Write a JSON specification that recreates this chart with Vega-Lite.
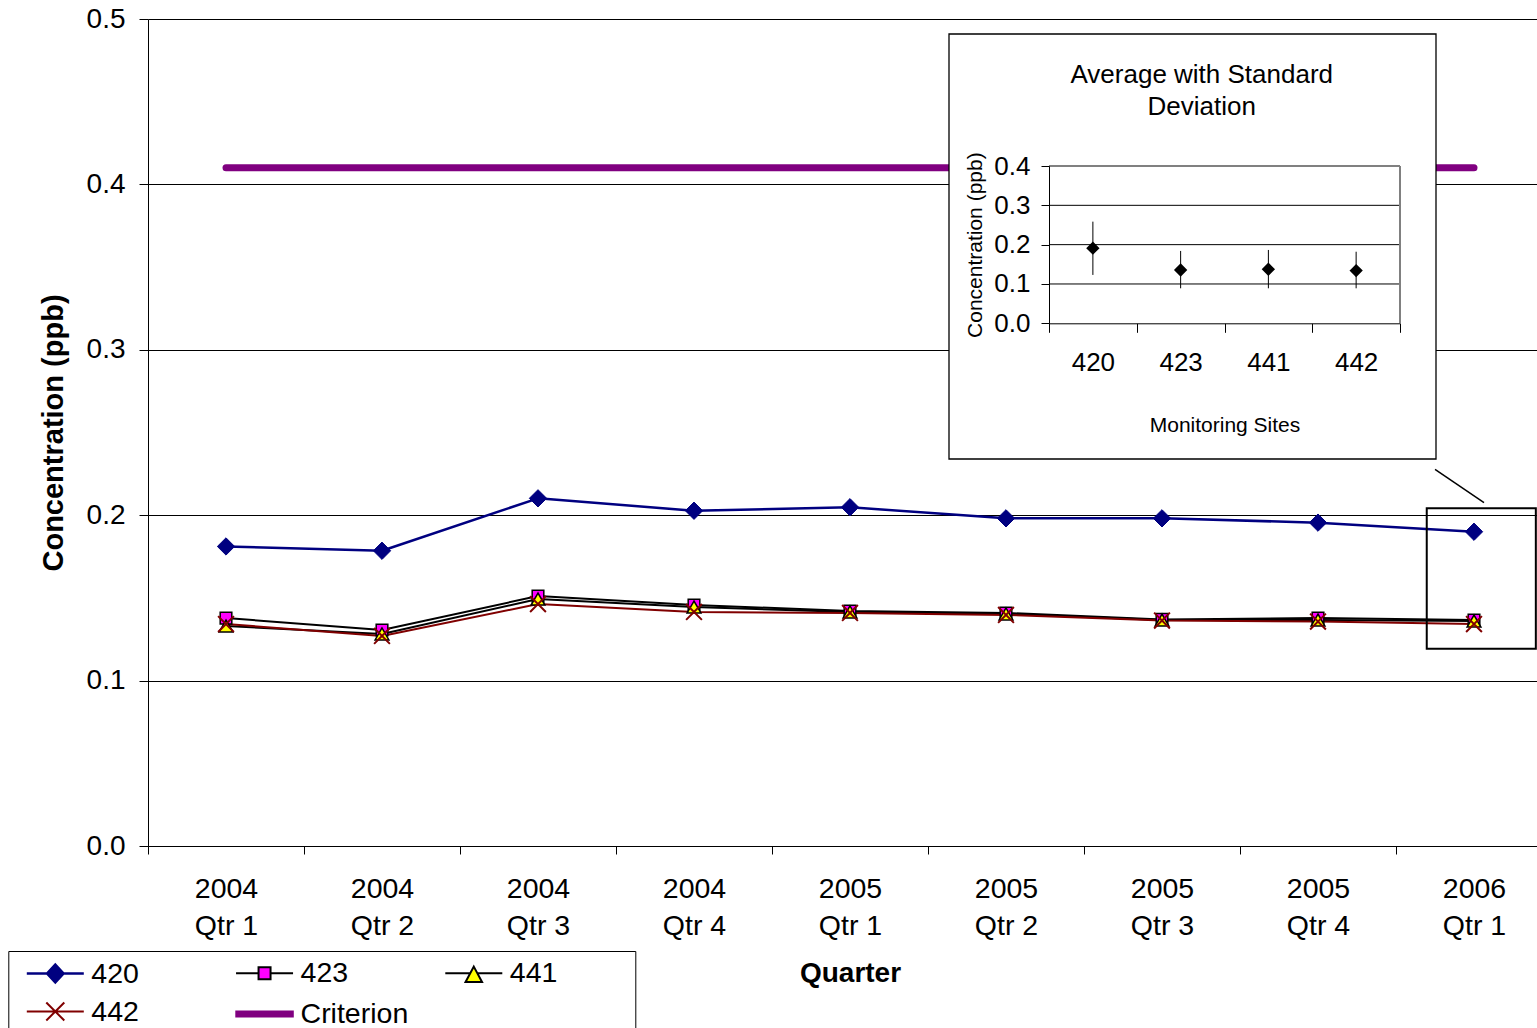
{
  "$schema": "https://vega.github.io/schema/vega-lite/v6.json",
  "width": 1389,
  "height": 827,
  "autosize": {"type": "none"},
  "padding": {"left": 148, "top": 19, "right": 0, "bottom": 182},
  "background": "white",
  "config": {
    "view": {"stroke": null},
    "font": "Liberation Sans",
    "axis": {"labelFont": "Liberation Sans", "titleFont": "Liberation Sans"},
    "legend": {"labelFont": "Liberation Sans", "titleFont": "Liberation Sans"},
    "text": {"font": "Liberation Sans"}
  },
  "datasets": {
    "main": [
      {"quarter": "2004 Qtr 1", "series": "420", "value": 0.1811},
      {"quarter": "2004 Qtr 2", "series": "420", "value": 0.1785},
      {"quarter": "2004 Qtr 3", "series": "420", "value": 0.2102},
      {"quarter": "2004 Qtr 4", "series": "420", "value": 0.2027},
      {"quarter": "2005 Qtr 1", "series": "420", "value": 0.2048},
      {"quarter": "2005 Qtr 2", "series": "420", "value": 0.1981},
      {"quarter": "2005 Qtr 3", "series": "420", "value": 0.1981},
      {"quarter": "2005 Qtr 4", "series": "420", "value": 0.1955},
      {"quarter": "2006 Qtr 1", "series": "420", "value": 0.19},
      {"quarter": "2004 Qtr 1", "series": "423", "value": 0.1378},
      {"quarter": "2004 Qtr 2", "series": "423", "value": 0.1306},
      {"quarter": "2004 Qtr 3", "series": "423", "value": 0.1511},
      {"quarter": "2004 Qtr 4", "series": "423", "value": 0.1457},
      {"quarter": "2005 Qtr 1", "series": "423", "value": 0.1421},
      {"quarter": "2005 Qtr 2", "series": "423", "value": 0.1409},
      {"quarter": "2005 Qtr 3", "series": "423", "value": 0.137},
      {"quarter": "2005 Qtr 4", "series": "423", "value": 0.1378},
      {"quarter": "2006 Qtr 1", "series": "423", "value": 0.1366},
      {"quarter": "2004 Qtr 1", "series": "441", "value": 0.133},
      {"quarter": "2004 Qtr 2", "series": "441", "value": 0.1282},
      {"quarter": "2004 Qtr 3", "series": "441", "value": 0.1493},
      {"quarter": "2004 Qtr 4", "series": "441", "value": 0.1445},
      {"quarter": "2005 Qtr 1", "series": "441", "value": 0.1415},
      {"quarter": "2005 Qtr 2", "series": "441", "value": 0.1403},
      {"quarter": "2005 Qtr 3", "series": "441", "value": 0.1366},
      {"quarter": "2005 Qtr 4", "series": "441", "value": 0.1366},
      {"quarter": "2006 Qtr 1", "series": "441", "value": 0.136},
      {"quarter": "2004 Qtr 1", "series": "442", "value": 0.1342},
      {"quarter": "2004 Qtr 2", "series": "442", "value": 0.127},
      {"quarter": "2004 Qtr 3", "series": "442", "value": 0.1463},
      {"quarter": "2004 Qtr 4", "series": "442", "value": 0.1415},
      {"quarter": "2005 Qtr 1", "series": "442", "value": 0.1409},
      {"quarter": "2005 Qtr 2", "series": "442", "value": 0.1397},
      {"quarter": "2005 Qtr 3", "series": "442", "value": 0.1363},
      {"quarter": "2005 Qtr 4", "series": "442", "value": 0.1357},
      {"quarter": "2006 Qtr 1", "series": "442", "value": 0.1342},
      {"quarter": "2004 Qtr 1", "series": "Criterion", "value": 0.41},
      {"quarter": "2004 Qtr 2", "series": "Criterion", "value": 0.41},
      {"quarter": "2004 Qtr 3", "series": "Criterion", "value": 0.41},
      {"quarter": "2004 Qtr 4", "series": "Criterion", "value": 0.41},
      {"quarter": "2005 Qtr 1", "series": "Criterion", "value": 0.41},
      {"quarter": "2005 Qtr 2", "series": "Criterion", "value": 0.41},
      {"quarter": "2005 Qtr 3", "series": "Criterion", "value": 0.41},
      {"quarter": "2005 Qtr 4", "series": "Criterion", "value": 0.41},
      {"quarter": "2006 Qtr 1", "series": "Criterion", "value": 0.41}
    ],
    "inset": [
      {"site": "420", "mean": 0.191, "lo": 0.123, "hi": 0.2585},
      {"site": "423", "mean": 0.1356, "lo": 0.089, "hi": 0.184},
      {"site": "441", "mean": 0.1374, "lo": 0.089, "hi": 0.1865},
      {"site": "442", "mean": 0.134, "lo": 0.089, "hi": 0.182}
    ]
  },
  "resolve": {"scale": {"x": "independent", "y": "independent"}},
  "layer": [
    {
      "data": {"name": "main"},
      "layer": [
        {
          "transform": [{"filter": "datum.series === '420'"}],
          "mark": {"type": "line", "stroke": "#000080", "strokeWidth": 2.5, "strokeJoin": "round"},
          "encoding": {
            "x": {
              "field": "quarter", "type": "ordinal",
              "scale": {"type": "band", "range": [0, 1404], "paddingInner": 0, "paddingOuter": 0},
              "axis": {
                "orient": "bottom", "title": "Quarter", "titleFontSize": 28, "titleFontWeight": "bold", "titleColor": "#000", "titlePadding": 20,
                "labelExpr": "[slice(datum.label, 0, 4), slice(datum.label, 5)]",
                "labelFontSize": 28.5, "labelColor": "#000", "labelLineHeight": 37, "labelPadding": 20, "labelAngle": 0,
                "tickBand": "extent", "tickSize": 8, "tickColor": "#000", "domainColor": "#000", "grid": false
              }
            },
            "y": {
              "field": "value", "type": "quantitative",
              "scale": {"domain": [0, 0.5], "nice": false},
              "axis": {
                "orient": "left", "values": [0, 0.1, 0.2, 0.3, 0.4, 0.5], "format": ".1f",
                "grid": true, "gridColor": "#000", "gridWidth": 1, "domainColor": "#000", "tickColor": "#000", "tickSize": 9,
                "labelFontSize": 28, "labelColor": "#000", "labelPadding": 14,
                "title": "Concentration (ppb)", "titleFontSize": 29, "titleFontWeight": "bold", "titleColor": "#000", "titlePadding": 18
              }
            }
          }
        },
        {
          "transform": [{"filter": "datum.series === '423'"}],
          "mark": {"type": "line", "stroke": "#000000", "strokeWidth": 2, "strokeJoin": "round"},
          "encoding": {
            "x": {"field": "quarter", "type": "ordinal"},
            "y": {"field": "value", "type": "quantitative"}
          }
        },
        {
          "transform": [{"filter": "datum.series === '441'"}],
          "mark": {"type": "line", "stroke": "#000000", "strokeWidth": 2, "strokeJoin": "round"},
          "encoding": {
            "x": {"field": "quarter", "type": "ordinal"},
            "y": {"field": "value", "type": "quantitative"}
          }
        },
        {
          "transform": [{"filter": "datum.series === '442'"}],
          "mark": {"type": "line", "stroke": "#800000", "strokeWidth": 2, "strokeJoin": "round"},
          "encoding": {
            "x": {"field": "quarter", "type": "ordinal"},
            "y": {"field": "value", "type": "quantitative"}
          }
        },
        {
          "transform": [{"filter": "datum.series === 'Criterion'"}],
          "mark": {"type": "line", "stroke": "#800080", "strokeWidth": 7, "strokeCap": "round"},
          "encoding": {
            "x": {"field": "quarter", "type": "ordinal"},
            "y": {"field": "value", "type": "quantitative"}
          }
        },
        {
          "transform": [{"filter": "datum.series === '420'"}],
          "mark": {"type": "point", "filled": true, "shape": "diamond", "size": 300, "fill": "#000080", "stroke": "#000080", "strokeWidth": 1, "opacity": 1},
          "encoding": {
            "x": {"field": "quarter", "type": "ordinal"},
            "y": {"field": "value", "type": "quantitative"}
          }
        },
        {
          "transform": [{"filter": "datum.series === '423'"}],
          "mark": {"type": "point", "filled": true, "shape": "square", "size": 135, "fill": "#FF00FF", "stroke": "#000000", "strokeWidth": 1.5, "opacity": 1},
          "encoding": {
            "x": {"field": "quarter", "type": "ordinal"},
            "y": {"field": "value", "type": "quantitative"}
          }
        },
        {
          "transform": [{"filter": "datum.series === '441'"}],
          "mark": {"type": "point", "filled": true, "shape": "triangle-up", "size": 190, "fill": "#FFFF00", "stroke": "#000000", "strokeWidth": 1.5, "opacity": 1},
          "encoding": {
            "x": {"field": "quarter", "type": "ordinal"},
            "y": {"field": "value", "type": "quantitative"}
          }
        },
        {
          "transform": [{"filter": "datum.series === '442'"}],
          "mark": {"type": "point", "filled": false, "shape": "M-1,-1L1,1M-1,1L1,-1", "size": 250, "stroke": "#800000", "strokeWidth": 2, "opacity": 1},
          "encoding": {
            "x": {"field": "quarter", "type": "ordinal"},
            "y": {"field": "value", "type": "quantitative"}
          }
        },
        {
          "transform": [{"filter": "false"}],
          "mark": {"type": "point", "filled": true, "opacity": 1, "strokeCap": "round"},
          "encoding": {
            "color": {
              "field": "series", "type": "nominal",
              "scale": {"domain": ["420", "423", "441", "442", "Criterion"], "range": ["#000080", "#FF00FF", "#FFFF00", "#800000", "#800080"]},
              "legend": {
                "orient": "none", "legendX": -139.7, "legendY": 932, "direction": "horizontal", "columns": 3,
                "title": " ", "titleOrient": "left", "titleFontSize": 1, "titlePadding": 13.5,
                "symbolSize": 900, "symbolOffset": 10, "labelOffset": 17.5, "columnPadding": 9.25, "rowPadding": 6.5,
                "gridAlign": "all", "padding": 5, "strokeColor": "#000", "fillColor": "white",
                "labelFontSize": 28.5, "labelColor": "#000", "labelLimit": 400, "symbolOpacity": 1
              }
            },
            "stroke": {
              "field": "series", "type": "nominal",
              "scale": {"domain": ["420", "423", "441", "442", "Criterion"], "range": ["#000080", "#000000", "#000000", "#800000", "#800080"]},
              "legend": {"title": " "}
            },
            "strokeWidth": {
              "field": "series", "type": "nominal",
              "scale": {"type": "ordinal", "domain": ["420", "423", "441", "442", "Criterion"], "range": [2.5, 2, 2, 2, 7]},
              "legend": {"title": " "}
            },
            "shape": {
              "field": "series", "type": "nominal",
              "scale": {"domain": ["420", "423", "441", "442", "Criterion"], "range": [
                "M-1.9,0H-0.55M0.55,0H1.9M0,-0.6L0.55,0L0,0.6L-0.55,0Z",
                "M-1.9,0H-0.4M0.4,0H1.9M-0.4,-0.4H0.4V0.4H-0.4Z",
                "M10.13,0M-1.9,0H-0.24M0.24,0H1.9M0,-0.44L0.55,0.58H-0.55Z",
                "M-1.9,0H1.9M-0.6,-0.6L0.6,0.6M-0.6,0.6L0.6,-0.6",
                "M-1.95,0H1.95"
              ]},
              "legend": {"title": " "}
            }
          }
        }
      ]
    },
    {
      "data": {"values": [{}]},
      "layer": [
        {
          "mark": {"type": "rect", "fill": "white", "stroke": "#000", "strokeWidth": 1.3},
          "encoding": {
            "x": {"datum": 0, "type": "quantitative", "scale": {"domain": [0, 1], "range": [801, 1288], "nice": false, "zero": false}, "axis": null},
            "x2": {"datum": 1},
            "y": {"datum": 0, "type": "quantitative", "scale": {"domain": [0, 1], "range": [440, 15], "nice": false, "zero": false}, "axis": null},
            "y2": {"datum": 1}
          }
        },
        {
          "mark": {"type": "text", "text": ["Average with Standard", "Deviation"], "fontSize": 26, "lineHeight": 31.7, "baseline": "alphabetic", "align": "center", "color": "#000"},
          "encoding": {
            "x": {"datum": 0.519, "type": "quantitative", "axis": null},
            "y": {"datum": 0.884, "type": "quantitative", "axis": null}
          }
        },
        {
          "mark": {"type": "rule", "stroke": "#000", "strokeWidth": 1.5},
          "encoding": {
            "x": {"datum": 0.998, "type": "quantitative", "axis": null},
            "x2": {"datum": 1.0986},
            "y": {"datum": -0.0242, "type": "quantitative", "axis": null},
            "y2": {"datum": -0.1028}
          }
        },
        {
          "mark": {"type": "rect", "fillOpacity": 0, "stroke": "#000", "strokeWidth": 2},
          "encoding": {
            "x": {"datum": 0.981, "type": "quantitative", "axis": null},
            "x2": {"datum": 1.205},
            "y": {"datum": -0.116, "type": "quantitative", "axis": null},
            "y2": {"datum": -0.4464}
          }
        }
      ]
    },
    {
      "data": {"name": "inset"},
      "resolve": {"scale": {"x": "independent"}},
      "layer": [
        {
          "data": {"values": [{}]},
          "layer": [
            {
              "mark": {"type": "rule", "stroke": "#000", "strokeWidth": 1},
              "encoding": {
                "x": {"datum": 0, "type": "quantitative", "scale": {"domain": [0, 1], "range": [901, 1252], "nice": false, "zero": false}, "axis": null},
                "x2": {"datum": 1},
                "y": {"datum": 0.1, "type": "quantitative"}
              }
            },
            {
              "mark": {"type": "rule", "stroke": "#000", "strokeWidth": 1},
              "encoding": {
                "x": {"datum": 0, "type": "quantitative", "axis": null},
                "x2": {"datum": 1},
                "y": {"datum": 0.2, "type": "quantitative"}
              }
            },
            {
              "mark": {"type": "rule", "stroke": "#000", "strokeWidth": 1},
              "encoding": {
                "x": {"datum": 0, "type": "quantitative", "axis": null},
                "x2": {"datum": 1},
                "y": {"datum": 0.3, "type": "quantitative"}
              }
            },
            {
              "mark": {"type": "rule", "stroke": "#808080", "strokeWidth": 2},
              "encoding": {
                "x": {"datum": 0, "type": "quantitative", "axis": null},
                "x2": {"datum": 1},
                "y": {"datum": 0.4, "type": "quantitative"}
              }
            },
            {
              "mark": {"type": "rule", "stroke": "#808080", "strokeWidth": 2},
              "encoding": {
                "x": {"datum": 1, "type": "quantitative", "axis": null},
                "y": {"datum": 0, "type": "quantitative"},
                "y2": {"datum": 0.4}
              }
            }
          ]
        },
        {
          "layer": [
            {
              "mark": {"type": "rule", "stroke": "#000", "strokeWidth": 1},
              "encoding": {
                "x": {
                  "field": "site", "type": "nominal",
                  "scale": {"type": "band", "domain": ["420", "423", "441", "442"], "range": [901, 1252], "paddingInner": 0, "paddingOuter": 0},
                  "axis": {
                    "orient": "bottom", "offset": -522.7, "tickBand": "extent", "tickSize": 9, "tickColor": "#000", "domainColor": "#000",
                    "labelFontSize": 26, "labelColor": "#000", "labelPadding": 17, "labelAngle": 0,
                    "title": "Monitoring Sites", "titleFontSize": 21, "titleFontWeight": "normal", "titleColor": "#000", "titlePadding": 39,
                    "zindex": 1, "grid": false
                  }
                },
                "y": {
                  "field": "lo", "type": "quantitative",
                  "scale": {"domain": [0, 0.4], "range": [304.3, 147], "nice": false, "zero": false},
                  "axis": {
                    "orient": "left", "offset": -901, "values": [0, 0.1, 0.2, 0.3, 0.4], "format": ".1f", "grid": false,
                    "tickSize": 8, "tickColor": "#000", "domainColor": "#000",
                    "labelFontSize": 26, "labelColor": "#000", "labelPadding": 11,
                    "title": "Concentration (ppb)", "titleFontSize": 21, "titleFontWeight": "normal", "titleColor": "#000", "titlePadding": 8,
                    "zindex": 1
                  }
                },
                "y2": {"field": "hi"}
              }
            },
            {
              "mark": {"type": "point", "filled": true, "shape": "diamond", "size": 110, "fill": "#000", "stroke": "#000", "opacity": 1},
              "encoding": {
                "x": {"field": "site", "type": "nominal"},
                "y": {"field": "mean", "type": "quantitative"}
              }
            }
          ]
        }
      ]
    }
  ]
}
